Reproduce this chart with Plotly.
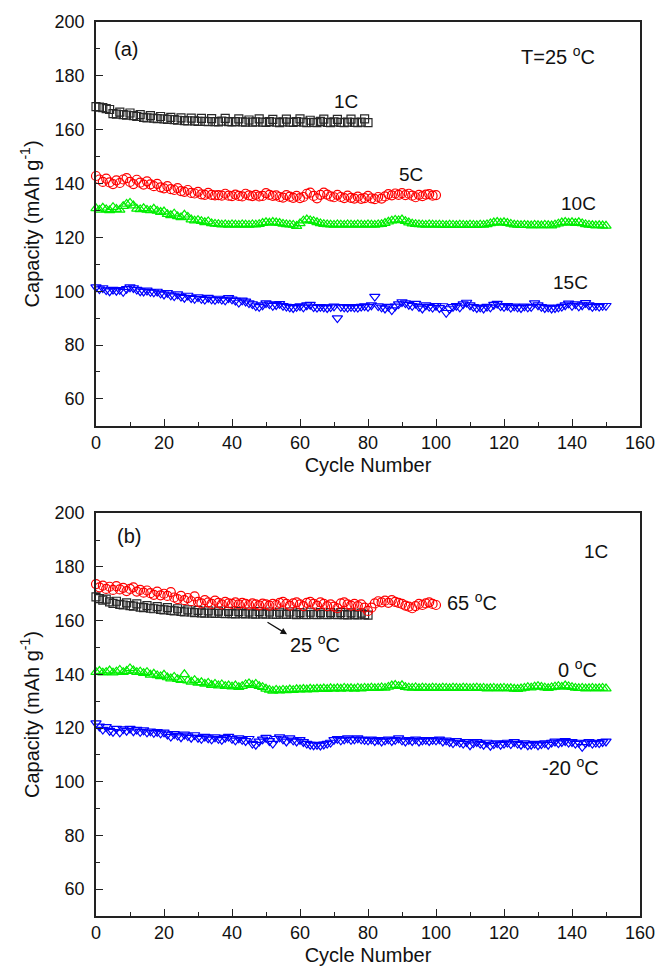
import plotly.graph_objects as go

# ---------------- data: panel (a), T = 25 C, different C-rates ----------------
a_1C = [168.6,168.4,168.2,167.8,167.5,166.0,165.8,166.5,165.6,165.4,
        166.2,165.2,164.9,165.6,164.6,164.4,165.2,164.3,164.1,164.9,
        164.0,163.8,164.6,163.7,163.5,164.4,163.4,163.3,164.3,163.3,
        163.1,164.2,163.1,163.0,164.1,163.0,162.9,163.2,164.2,163.0,
        162.9,163.0,164.0,162.9,162.8,163.6,162.8,162.9,164.0,162.8,
        162.7,163.0,163.8,162.8,162.6,162.9,163.9,162.8,162.7,163.0,
        164.0,162.8,162.6,163.5,162.7,162.6,163.1,163.9,162.7,162.6,
        162.9,163.8,162.7,162.6,162.8,163.9,162.7,162.6,162.8,164.0,162.6]
a_5C = [142.8,141.5,140.6,141.8,140.4,139.8,141.2,140.2,141.5,142.0,
        140.6,139.8,141.4,140.3,139.6,140.8,139.7,139.0,139.9,138.6,
        138.2,139.0,137.9,137.6,138.3,137.2,136.9,137.6,136.5,136.3,
        136.9,136.0,135.8,136.5,135.8,135.6,135.7,135.5,136.2,135.5,
        135.3,135.9,135.4,135.2,136.2,135.6,135.3,135.8,135.2,135.4,
        136.4,135.8,135.4,135.6,135.0,134.8,135.7,135.1,134.7,135.4,
        134.6,135.0,136.2,136.6,135.4,134.5,135.8,136.6,135.9,135.2,
        134.9,135.8,135.0,134.6,135.5,134.7,134.4,135.1,134.3,134.6,
        135.4,134.5,134.2,135.0,134.4,135.2,136.1,135.6,136.3,135.8,
        136.4,135.7,136.2,135.5,134.9,135.8,135.3,135.9,136.1,135.5,
        135.7]
a_10C = [130.8,130.2,131.0,130.4,130.0,131.2,130.5,130.2,131.6,132.4,
         132.8,131.8,130.6,130.4,130.8,130.2,130.0,130.6,129.8,129.4,
         129.6,128.6,128.2,128.8,127.8,127.4,128.4,127.6,126.6,126.2,
         126.4,126.0,125.6,125.9,125.2,125.0,124.9,124.7,124.8,124.6,
         124.8,124.7,124.6,124.8,124.7,124.6,124.8,124.7,124.9,125.3,
         125.6,125.4,125.7,125.5,125.3,125.0,124.8,124.7,124.6,124.2,
         125.2,126.2,126.6,126.3,126.0,125.6,125.2,124.9,124.8,124.7,
         124.6,124.8,124.7,124.6,124.8,124.7,124.6,124.8,124.7,124.6,
         124.8,124.7,124.6,124.8,124.9,125.3,125.8,126.2,126.5,126.3,
         126.6,126.0,125.5,125.1,124.9,124.8,124.7,124.6,124.8,124.7,
         124.6,124.7,124.6,124.5,124.7,124.6,124.5,124.7,124.6,124.5,
         124.7,124.6,124.5,124.7,124.6,124.8,125.2,125.5,125.7,125.4,
         125.6,125.3,125.0,124.7,124.6,124.5,124.6,124.5,124.4,124.6,
         124.5,124.4,124.6,124.5,124.4,124.7,125.1,125.5,125.7,125.4,
         125.6,125.3,125.6,125.2,124.8,124.6,124.5,124.4,124.5,124.4,
         124.3]
a_15C = [101.5,100.8,101.2,100.4,100.0,100.6,100.2,100.5,99.8,100.9,
         101.5,101.2,100.6,100.0,99.9,100.3,99.8,99.6,99.9,99.2,
         98.8,99.4,98.5,98.2,98.9,98.0,97.6,98.4,97.5,97.2,
         97.8,97.2,96.9,97.6,97.0,96.8,97.3,96.9,96.6,97.5,
         97.0,96.5,95.8,96.6,96.2,95.6,95.2,94.5,94.2,94.8,
         95.6,95.2,94.6,94.9,95.3,94.6,94.3,94.0,93.8,94.2,
         94.5,94.0,94.8,95.0,94.1,93.9,94.2,94.0,93.8,94.1,
         94.4,90.0,94.2,94.0,93.9,94.2,94.0,93.9,94.3,94.5,
         94.2,94.8,98.0,94.5,94.0,93.6,94.3,93.0,94.4,95.2,
         96.0,95.6,95.0,94.6,95.4,94.2,93.6,94.8,94.3,93.9,
         94.6,93.8,94.5,92.0,93.4,94.2,94.6,94.0,95.2,95.8,
         94.8,94.2,93.8,94.0,93.6,94.3,94.0,95.0,95.4,94.5,
         94.2,94.6,93.9,94.4,94.0,93.8,94.4,94.0,94.2,95.6,
         94.8,94.2,93.8,94.0,93.6,93.8,94.0,94.3,94.8,95.5,
         94.6,95.2,94.4,94.8,95.7,94.8,94.2,94.6,94.3,94.6,
         94.6]

# ---------------- data: panel (b), 1C, different temperatures ----------------
b_25 = [168.8,168.2,167.6,168.0,167.0,166.4,167.2,166.0,165.8,166.6,
        165.6,165.4,166.2,165.0,164.8,165.6,164.6,164.4,165.2,164.2,
        164.0,164.8,163.8,163.6,164.4,163.4,163.2,164.0,163.2,163.0,
        163.8,162.9,162.8,163.6,162.8,162.7,163.5,162.7,162.6,163.4,
        162.6,162.5,163.3,162.6,162.5,163.2,162.5,162.4,163.3,162.5,
        162.4,163.2,162.4,162.3,163.1,162.4,162.3,163.2,162.4,162.2,
        163.0,162.3,162.2,163.1,162.3,162.2,163.0,162.3,162.2,163.0,
        162.3,162.2,163.0,162.2,162.1,162.9,162.2,162.1,162.8,162.2,
        162.0]
b_65 = [173.6,172.4,173.0,171.8,172.6,171.4,172.8,171.6,172.2,171.0,
        171.8,172.4,170.8,171.4,170.4,171.2,170.2,169.6,170.8,169.4,
        170.0,169.2,170.6,168.6,168.0,169.2,167.6,168.4,167.2,169.0,
        167.0,166.4,167.6,166.8,166.2,167.4,166.6,166.0,167.0,166.4,
        166.2,166.8,166.0,166.6,166.2,165.8,166.4,166.0,165.7,166.3,
        166.0,165.6,166.2,165.8,166.6,167.0,166.2,165.6,166.4,166.8,
        166.0,165.4,166.6,167.0,166.2,165.6,166.8,166.2,165.4,166.0,
        165.2,164.6,166.4,166.8,166.0,165.6,166.2,165.4,166.0,164.8,
        163.6,164.8,166.4,167.2,166.8,167.4,166.6,167.6,167.0,166.6,
        166.2,165.6,165.2,164.6,165.4,166.2,165.8,166.4,166.8,166.2,
        165.8]
b_0 = [140.8,141.2,140.6,140.8,141.4,140.6,141.0,141.6,140.8,141.2,
       142.2,141.4,140.8,141.0,140.4,140.8,139.8,140.2,139.6,139.2,
       139.8,138.8,138.4,139.0,138.2,137.8,140.0,137.6,137.2,137.8,
       136.8,137.0,136.4,136.8,136.0,136.4,135.8,136.2,135.6,135.8,
       135.4,135.8,135.2,135.6,136.2,136.6,136.0,136.4,135.6,135.2,
       134.6,134.2,133.8,134.2,133.9,134.2,134.0,134.3,134.1,134.4,
       134.3,134.5,134.3,134.6,134.4,134.6,134.5,134.7,134.5,134.8,
       134.6,134.8,134.6,134.9,134.7,134.8,134.6,134.9,134.7,134.9,
       134.8,135.0,134.8,134.9,135.1,134.9,135.3,135.8,136.0,135.6,
       135.9,135.2,135.0,134.9,135.1,134.8,135.0,134.9,134.8,135.0,
       134.9,134.8,135.0,134.9,134.8,135.0,134.9,134.8,135.0,134.9,
       134.8,134.9,135.0,134.8,134.9,134.7,134.8,134.9,134.7,134.8,
       134.9,134.7,134.8,134.6,134.5,134.7,134.9,135.2,135.0,135.4,
       135.6,135.3,135.0,134.8,135.1,135.4,135.6,135.3,135.8,135.5,
       135.2,134.9,134.8,134.9,134.7,134.8,134.9,134.7,134.8,134.9,
       134.7]
b_m20 = [121.8,120.6,119.4,120.4,119.0,118.6,119.8,118.4,119.6,119.0,
         119.8,118.8,119.4,118.6,119.2,118.4,118.8,118.2,118.6,118.0,
         118.4,117.6,116.8,117.8,117.2,116.6,117.6,117.0,116.4,117.4,
         116.4,116.0,116.8,116.2,115.8,116.6,116.0,115.6,116.4,116.8,
         116.0,115.4,116.2,115.6,115.2,116.0,114.2,113.8,115.0,115.8,
         116.4,115.2,114.2,116.0,116.6,115.8,115.0,116.2,115.4,115.0,
         115.6,114.8,114.2,113.8,113.6,113.8,113.5,113.9,114.2,114.6,
         115.6,116.0,115.4,115.8,116.2,115.6,115.8,116.2,115.8,115.6,
         115.4,115.8,115.2,115.6,115.0,115.4,115.8,115.2,115.6,116.2,
         115.4,115.0,115.6,115.2,115.8,115.0,115.4,115.6,115.2,115.6,
         115.4,115.8,115.0,115.4,114.8,114.4,115.2,114.6,114.2,114.8,
         113.6,114.4,114.8,114.2,113.8,114.6,113.4,114.0,114.4,113.8,
         114.2,114.6,114.0,114.8,114.2,113.8,114.4,113.6,113.8,114.2,
         113.6,114.0,114.4,113.8,114.6,115.0,114.4,114.8,115.2,114.6,
         114.8,114.2,114.6,113.0,114.4,114.8,114.2,114.6,114.4,114.8,
         115.0]

FONT = "Liberation Sans, Arial, sans-serif"
TXT = "#111111"

series = [
    (a_1C, "x", "y", "square-open", "#2a2a2a", 8),
    (a_5C, "x", "y", "circle-open", "#ff0000", 9),
    (a_10C, "x", "y", "triangle-up-open", "#00ee00", 9),
    (a_15C, "x", "y", "triangle-down-open", "#0000ff", 9),
    (b_25, "x2", "y2", "square-open", "#2a2a2a", 8),
    (b_65, "x2", "y2", "circle-open", "#ff0000", 9),
    (b_0, "x2", "y2", "triangle-up-open", "#00ee00", 9),
    (b_m20, "x2", "y2", "triangle-down-open", "#0000ff", 9),
]

fig = go.Figure()
for vals, xa, ya, sym, col, sz in series:
    fig.add_trace(go.Scatter(
        x=list(range(len(vals))), y=vals, xaxis=xa, yaxis=ya,
        mode="markers", cliponaxis=False, showlegend=False,
        marker=dict(symbol=sym, size=sz, color=col, line=dict(width=1.2, color=col)),
    ))

def xax(anchor):
    return dict(
        range=[0, 160], anchor=anchor, domain=[0, 1],
        tickmode="linear", tick0=0, dtick=20, ticks="inside", ticklen=7, tickwidth=1.3,
        tickcolor="#222", minor=dict(tick0=0, dtick=10, ticks="inside", ticklen=4, tickwidth=1.3, tickcolor="#222"),
        showline=True, linecolor="#222", linewidth=1.6, mirror=True,
        showgrid=False, zeroline=False,
        tickfont=dict(family=FONT, size=18, color=TXT),
        title=dict(text="Cycle Number", font=dict(family=FONT, size=20, color=TXT), standoff=6),
    )

def yax(anchor, dom):
    return dict(
        range=[50, 200], anchor=anchor, domain=dom,
        tickmode="linear", tick0=0, dtick=20, ticks="inside", ticklen=7, tickwidth=1.3,
        tickcolor="#222", minor=dict(tick0=0, dtick=10, ticks="inside", ticklen=4, tickwidth=1.3, tickcolor="#222"),
        showline=True, linecolor="#222", linewidth=1.6, mirror=True,
        showgrid=False, zeroline=False, ticklabelstandoff=6,
        tickfont=dict(family=FONT, size=18, color=TXT),
        title=dict(text="Capacity (mAh g<sup>-1</sup>)", font=dict(family=FONT, size=20, color=TXT), standoff=10),
    )

fig.update_layout(
    width=668, height=975,
    margin=dict(l=96, r=28, t=16, b=58),
    paper_bgcolor="white", plot_bgcolor="white",
    xaxis=xax("y"), yaxis=yax("x", [0.5483, 1.0]),
    xaxis2=xax("y2"), yaxis2=yax("x2", [0.0, 0.4506]),
)

def lab(text, x, y, xr="x", yr="y", size=19):
    fig.add_annotation(text=text, x=x, y=y, xref=xr, yref=yr, showarrow=False,
                       font=dict(family=FONT, size=size, color=TXT))

lab("(a)", 8.8, 189.8, size=20)
lab("T=25 <sup>o</sup>C", 136, 187.5, size=20)
lab("1C", 73.5, 170.5)
lab("5C", 92.6, 143.2)
lab("10C", 142, 132.7)
lab("15C", 139.7, 103.1)

lab("(b)", 9.8, 191.5, "x2", "y2", size=20)
lab("1C", 147, 185.6, "x2", "y2")
lab("65 <sup>o</sup>C", 110.6, 167.1, "x2", "y2", size=20)
lab("25 <sup>o</sup>C", 64.4, 151.5, "x2", "y2", size=20)
lab("0 <sup>o</sup>C", 141.5, 142, "x2", "y2", size=20)
lab("-20 <sup>o</sup>C", 139.7, 105.5, "x2", "y2", size=20)

fig.add_annotation(x=56.2, y=154.9, ax=50, ay=159.7, xref="x2", yref="y2", axref="x2", ayref="y2",
                   text="", showarrow=True, arrowhead=2, arrowsize=1, arrowwidth=1.3, arrowcolor="#111")

fig.write_html("out.html")
